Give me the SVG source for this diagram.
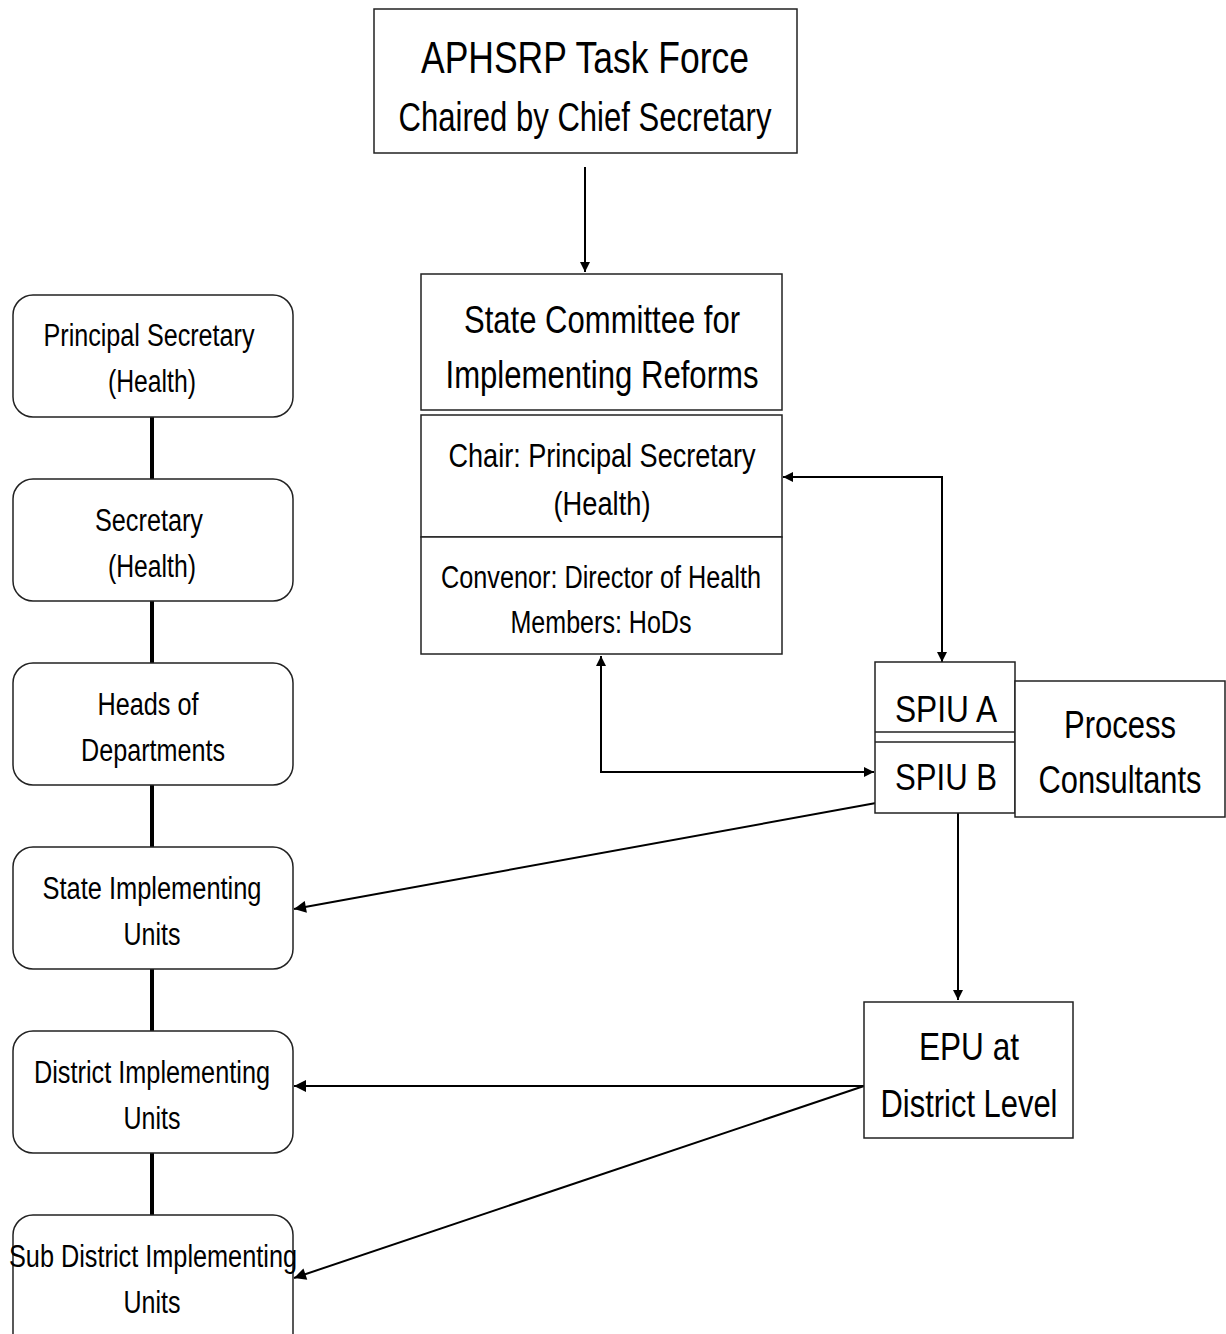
<svg xmlns="http://www.w3.org/2000/svg" width="1226" height="1334" viewBox="0 0 1226 1334">
<style>
text{font-family:"Liberation Sans",Arial,sans-serif;fill:#000;text-anchor:middle}
.box{fill:#fff;stroke:#222;stroke-width:1.5}
.rbox{fill:#fff;stroke:#222;stroke-width:1.5}
.link{fill:none;stroke:#000;stroke-width:2}
.thick{fill:none;stroke:#000;stroke-width:4}
</style>
<defs>
<marker id="ah" viewBox="0 0 10 10" refX="10" refY="5" markerWidth="13" markerHeight="10" markerUnits="userSpaceOnUse" orient="auto-start-reverse">
<path d="M0,0 L10,5 L0,10 z" fill="#000"/>
</marker>
<marker id="ah2" viewBox="0 0 10 10" refX="10" refY="5" markerWidth="15" markerHeight="12" markerUnits="userSpaceOnUse" orient="auto-start-reverse">
<path d="M0,0 L10,5 L0,10 z" fill="#000"/>
</marker>
</defs>
<rect width="1226" height="1334" fill="#fff"/>

<g id="connectors">
<line class="thick" x1="152" y1="417" x2="152" y2="479"/>
<line class="thick" x1="152" y1="601" x2="152" y2="663"/>
<line class="thick" x1="152" y1="785" x2="152" y2="847"/>
<line class="thick" x1="152" y1="969" x2="152" y2="1031"/>
<line class="thick" x1="152" y1="1153" x2="152" y2="1215"/>
<line class="link" x1="585" y1="167" x2="585" y2="272" marker-end="url(#ah)"/>
<polyline class="link" points="942,662 942,477 783,477" marker-start="url(#ah)" marker-end="url(#ah)"/>
<polyline class="link" points="601,656 601,772 874,772" marker-start="url(#ah)" marker-end="url(#ah)"/>
<line class="link" x1="958" y1="803" x2="958" y2="1000" marker-end="url(#ah)"/>
<line class="link" x1="876" y1="803" x2="294" y2="909" marker-end="url(#ah2)"/>
<line class="link" x1="864" y1="1086" x2="294" y2="1086" marker-end="url(#ah2)"/>
<line class="link" x1="864" y1="1086" x2="294" y2="1278" marker-end="url(#ah2)"/>
</g>

<g id="taskforce">
<rect class="box" x="374" y="9" width="423" height="144"/>
<text x="585" y="73" font-size="44" textLength="328" lengthAdjust="spacingAndGlyphs">APHSRP Task Force</text>
<text x="585" y="131" font-size="40" textLength="373" lengthAdjust="spacingAndGlyphs">Chaired by Chief Secretary</text>
</g>

<g id="statecommittee">
<rect class="box" x="421" y="274" width="361" height="136"/>
<text x="602" y="333" font-size="39" textLength="276" lengthAdjust="spacingAndGlyphs">State Committee for</text>
<text x="602" y="388" font-size="39" textLength="313" lengthAdjust="spacingAndGlyphs">Implementing Reforms</text>
</g>

<g id="chair">
<rect class="box" x="421" y="415" width="361" height="122"/>
<text x="602" y="467" font-size="34" textLength="307" lengthAdjust="spacingAndGlyphs">Chair: Principal Secretary</text>
<text x="602" y="515" font-size="34" textLength="97" lengthAdjust="spacingAndGlyphs">(Health)</text>
</g>

<g id="convenor">
<rect class="box" x="421" y="537" width="361" height="117"/>
<text x="601" y="588" font-size="31" textLength="320" lengthAdjust="spacingAndGlyphs">Convenor: Director of Health</text>
<text x="601" y="633" font-size="31" textLength="181" lengthAdjust="spacingAndGlyphs">Members: HoDs</text>
</g>

<g id="spiu">
<rect class="box" x="875" y="662" width="140" height="151"/>
<line x1="875" y1="732" x2="1015" y2="732" stroke="#222" stroke-width="1.5"/>
<line x1="875" y1="742" x2="1015" y2="742" stroke="#222" stroke-width="1.5"/>
<text x="946" y="722" font-size="37" textLength="102" lengthAdjust="spacingAndGlyphs">SPIU A</text>
<text x="946" y="790" font-size="37" textLength="102" lengthAdjust="spacingAndGlyphs">SPIU B</text>
</g>

<g id="consultants">
<rect class="box" x="1015" y="681" width="210" height="136"/>
<text x="1120" y="738" font-size="39" textLength="112" lengthAdjust="spacingAndGlyphs">Process</text>
<text x="1120" y="793" font-size="39" textLength="163" lengthAdjust="spacingAndGlyphs">Consultants</text>
</g>

<g id="epu">
<rect class="box" x="864" y="1002" width="209" height="136"/>
<text x="969" y="1060" font-size="39" textLength="100" lengthAdjust="spacingAndGlyphs">EPU at</text>
<text x="969" y="1117" font-size="39" textLength="177" lengthAdjust="spacingAndGlyphs">District Level</text>
</g>

<g id="principal">
<rect class="rbox" x="13" y="295" width="280" height="122" rx="20"/>
<text x="149" y="346" font-size="31" textLength="211" lengthAdjust="spacingAndGlyphs">Principal Secretary</text>
<text x="152" y="392" font-size="31" textLength="88" lengthAdjust="spacingAndGlyphs">(Health)</text>
</g>

<g id="secretary">
<rect class="rbox" x="13" y="479" width="280" height="122" rx="20"/>
<text x="149" y="531" font-size="31" textLength="108" lengthAdjust="spacingAndGlyphs">Secretary</text>
<text x="152" y="577" font-size="31" textLength="88" lengthAdjust="spacingAndGlyphs">(Health)</text>
</g>

<g id="heads">
<rect class="rbox" x="13" y="663" width="280" height="122" rx="20"/>
<text x="148" y="715" font-size="31" textLength="101" lengthAdjust="spacingAndGlyphs">Heads of</text>
<text x="153" y="761" font-size="31" textLength="144" lengthAdjust="spacingAndGlyphs">Departments</text>
</g>

<g id="stateunits">
<rect class="rbox" x="13" y="847" width="280" height="122" rx="20"/>
<text x="152" y="899" font-size="31" textLength="219" lengthAdjust="spacingAndGlyphs">State Implementing</text>
<text x="152" y="945" font-size="31" textLength="57" lengthAdjust="spacingAndGlyphs">Units</text>
</g>

<g id="districtunits">
<rect class="rbox" x="13" y="1031" width="280" height="122" rx="20"/>
<text x="152" y="1083" font-size="31" textLength="236" lengthAdjust="spacingAndGlyphs">District Implementing</text>
<text x="152" y="1129" font-size="31" textLength="57" lengthAdjust="spacingAndGlyphs">Units</text>
</g>

<g id="subdistrictunits">
<rect class="rbox" x="13" y="1215" width="280" height="140" rx="20"/>
<text x="153" y="1267" font-size="31" textLength="288" lengthAdjust="spacingAndGlyphs">Sub District Implementing</text>
<text x="152" y="1313" font-size="31" textLength="57" lengthAdjust="spacingAndGlyphs">Units</text>
</g>
</svg>
